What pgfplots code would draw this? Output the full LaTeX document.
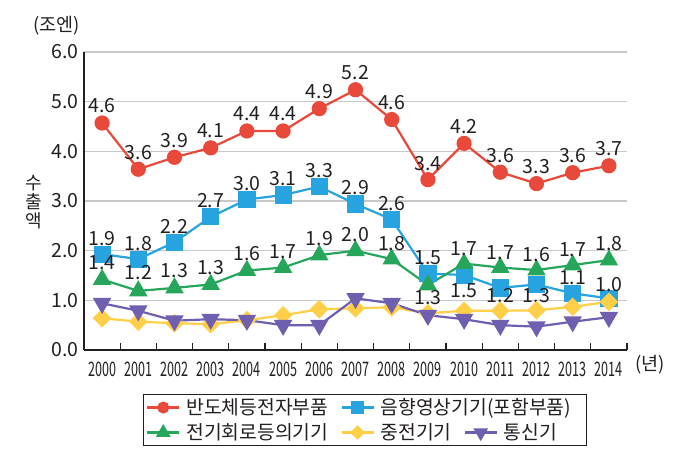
\documentclass[border=0pt]{standalone}
\usepackage{pgfplots}
\pgfplotsset{compat=1.18}
\usepackage{pgfplotstable}
\usepackage{graphicx}
\usepackage{fontspec}
\setmainfont{Noto Sans CJK KR}
\definecolor{cred}{HTML}{E8493A}
\definecolor{cblue}{HTML}{27A3E0}
\definecolor{cgreen}{HTML}{26A65B}
\definecolor{cyellow}{HTML}{FFCF4A}
\definecolor{cpurple}{HTML}{6F5FAE}
\definecolor{ctext}{HTML}{231F20}
\definecolor{cgrid}{HTML}{C8C8C8}
\newcommand\sx[1]{\scalebox{0.63}[1]{#1}}

\pgfplotstableread{
x y lab dy
0 4.57 4.6 17
1 3.64 3.6 17
2 3.88 3.9 17
3 4.07 4.1 17
4 4.41 4.4 17
5 4.41 4.4 17
6 4.86 4.9 17
7 5.24 5.2 17
8 4.64 4.6 17
9 3.43 3.4 16
10 4.16 4.2 17
11 3.58 3.6 17
12 3.35 3.3 17
13 3.57 3.6 17
14 3.71 3.7 17
}\tred

\pgfplotstableread{
x y lab dy
0 1.93 1.9 16
1 1.83 1.8 16
2 2.17 2.2 16
3 2.68 2.7 16
4 3.03 3.0 16
5 3.12 3.1 16
6 3.29 3.3 16
7 2.94 2.9 16
8 2.63 2.6 16
9 1.54 1.5 16
10 1.51 1.5 -16
11 1.25 1.2 -8
12 1.32 1.3 -11
13 1.14 1.1 16
14 1.04 1.0 14
}\tblue

\pgfplotstableread{
x y lab dy
0 1.42 1.4 17
1 1.19 1.2 18
2 1.25 1.3 17
3 1.32 1.3 17
4 1.60 1.6 17
5 1.66 1.7 16
6 1.91 1.9 17
7 2.00 2.0 16
8 1.83 1.8 16
9 1.31 1.3 -13
10 1.74 1.7 15
11 1.66 1.7 15
12 1.61 1.6 15
13 1.71 1.7 15
14 1.81 1.8 17
}\tgreen

\pgfplotstableread{
x y
0 0.64
1 0.57
2 0.54
3 0.52
4 0.60
5 0.70
6 0.82
7 0.84
8 0.86
9 0.74
10 0.79
11 0.79
12 0.80
13 0.87
14 0.97
}\tyellow

\pgfplotstableread{
x y
0 0.94
1 0.79
2 0.59
3 0.62
4 0.60
5 0.50
6 0.50
7 1.04
8 0.94
9 0.70
10 0.62
11 0.50
12 0.47
13 0.57
14 0.66
}\tpurple

\pgfplotsset{
  lab/.style={
    nodes near coords,
    point meta=explicit symbolic,
    visualization depends on={\thisrow{dy} \as \mydy},
    every node near coord/.append style={anchor=center, yshift=\mydy, inner sep=0pt,
      font=\fontsize{19.5}{20}\selectfont, text=ctext},
  },
}

\begin{document}
\begin{tikzpicture}
\path[use as bounding box] (0pt,0pt) rectangle (690pt,456pt);
\begin{axis}[
  at={(84pt,106pt)}, anchor=south west,
  scale only axis, width=543pt, height=298pt,
  xmin=-0.5, xmax=14.5, ymin=0, ymax=6,
  clip=false,
  axis x line*=bottom, axis y line*=left,
  axis line style={-, line width=1.3pt, ctext},
  xtick={0,...,14},
  xticklabels={\sx{2000},\sx{2001},\sx{2002},\sx{2003},\sx{2004},\sx{2005},\sx{2006},\sx{2007},\sx{2008},\sx{2009},\sx{2010},\sx{2011},\sx{2012},\sx{2013},\sx{2014}},
  minor xtick={-0.5,0.5,...,14.5},
  tick align=inside, major tick length=0pt, minor tick length=7pt,
  minor tick style={line width=1.1pt, ctext},
  xticklabel style={font=\fontsize{20}{20}\selectfont, text=ctext, yshift=-8.5pt},
  ytick={0,1,...,6},
  /pgf/number format/assume math mode=true,
  yticklabel style={font=\fontsize{19.5}{20}\selectfont, text=ctext, xshift=-2pt,
    /pgf/number format/fixed, /pgf/number format/fixed zerofill, /pgf/number format/precision=1},
  ymajorgrids, grid style={cgrid, line width=1.4pt},
  every axis y label/.style={at={(rel axis cs:-0.092,0.497)}, anchor=center, align=center,
    font=\fontsize{18}{19}\selectfont, text=ctext},
  ylabel={수\\출\\액},
  legend columns=3,
  legend cell align=left,
  legend image code/.code={\draw[mark repeat=2, mark phase=2, #1, every mark/.append style={scale=0.75}] plot coordinates {(0pt,0pt) (16pt,0pt) (32pt,0pt)};},
  legend style={at={(rel axis cs:0.5175,-0.235)}, anchor=center, draw=ctext, line width=0.8pt,
    font=\fontsize{19.3}{20}\selectfont, text=ctext,
    /tikz/row sep=3.5pt,
    /tikz/every odd column/.append style={column sep=4pt},
    /tikz/every even column/.append style={column sep=10pt}},
]
\addplot[cred, line width=2.2pt, mark=*, mark size=6.5pt, lab] table[x=x, y=y, meta=lab] {\tred};
\addlegendentry{반도체등전자부품}
\addplot[cblue, line width=2.2pt, mark=square*, mark size=7.5pt, lab] table[x=x, y=y, meta=lab] {\tblue};
\addlegendentry{\rlap{음향영상기기(포함부품)}}
\addlegendimage{empty legend}
\addlegendentry{\rule{78pt}{0pt}}
\addplot[cgreen, line width=2.2pt, mark=triangle*, mark size=8.5pt, lab] table[x=x, y=y, meta=lab] {\tgreen};
\addlegendentry{전기회로등의기기}
\addplot[cyellow, line width=2.2pt, mark=square*, mark size=5.5pt, mark options={rotate=45}] table[x=x, y=y] {\tyellow};
\addlegendentry{중전기기}
\addplot[cpurple, line width=2.2pt, mark=triangle*, mark size=8.5pt, mark options={rotate=180}] table[x=x, y=y] {\tpurple};
\addlegendentry{통신기}
\node[font=\fontsize{18.5}{19}\selectfont, text=ctext] at (rel axis cs:-0.05,1.087) {(조엔)};
\node[font=\fontsize{18.5}{19}\selectfont, text=ctext] at (rel axis cs:1.042,-0.05) {(년)};
\end{axis}
\end{tikzpicture}
\end{document}
